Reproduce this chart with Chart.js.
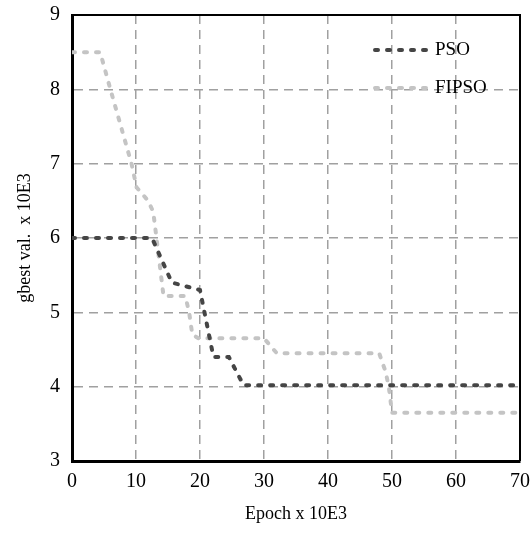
<!DOCTYPE html>
<html>
<head>
<meta charset="utf-8">
<script src="https://cdn.jsdelivr.net/npm/chart.js@4"></script>
<style>
  html, body { margin: 0; padding: 0; background: #fff; }
  canvas { display: block; }
</style>
</head>
<body>
<canvas id="chart" width="530" height="533"></canvas>
<script>
const xTicks = [0, 10, 20, 30, 40, 50, 60, 70];
const yTicks = [3, 4, 5, 6, 7, 8, 9];

const psoX = [0, 12.5, 15.6, 20.0, 22.1, 24.5, 26.8, 70];
const psoY = [6.0, 6.0, 5.40, 5.30, 4.40, 4.40, 4.02, 4.02];

const fipsoX = [0, 4.4, 6.0, 9.3, 10.1, 11.9, 12.7, 13.2, 14.3, 17.7, 18.3, 18.8, 19.8, 30.0, 32.0, 48.0, 49.0, 49.5, 50.0, 70];
const fipsoY = [8.5, 8.5, 8.0, 7.0, 6.68, 6.5, 6.35, 6.0, 5.22, 5.22, 5.0, 4.7, 4.65, 4.65, 4.45, 4.45, 4.2, 4.0, 3.65, 3.65];

const labels = ['PSO', 'FIPSO'];
const colors = ['#454545', '#c4c4c4'];

const serif = '"Liberation Serif", "DejaVu Serif", serif';

function toPoints(xs, ys) {
  return xs.map((x, i) => ({ x: x, y: ys[i] }));
}

// frame on top/right plus the legend in the upper right of the plot
const framePlugin = {
  id: 'frame',
  afterDatasetsDraw(chart) {
    const { ctx, chartArea: a } = chart;
    ctx.save();
    ctx.strokeStyle = '#000';
    ctx.lineWidth = 2;
    ctx.beginPath();
    ctx.moveTo(a.left, a.top);
    ctx.lineTo(a.right, a.top);
    ctx.lineTo(a.right, a.bottom);
    ctx.stroke();

    const lx = a.right - 145;
    chart.data.datasets.forEach((ds, i) => {
      const y = a.top + 35 + i * 38;
      ctx.strokeStyle = ds.borderColor;
      ctx.lineWidth = ds.borderWidth;
      ctx.lineCap = 'round';
      ctx.setLineDash(ds.borderDash);
      ctx.beginPath();
      ctx.moveTo(lx, y);
      ctx.lineTo(lx + 54, y);
      ctx.stroke();
      ctx.setLineDash([]);
      ctx.fillStyle = '#000';
      ctx.font = '19px ' + serif;
      ctx.textBaseline = 'middle';
      ctx.fillText(ds.label, lx + 60, y);
    });
    ctx.restore();
  }
};

const chart = new Chart(document.getElementById('chart').getContext('2d'), {
  type: 'line',
  data: {
    datasets: [
      { label: labels[0], data: toPoints(psoX, psoY), borderColor: colors[0], borderWidth: 4, borderDash: [3, 9], borderCapStyle: 'round', pointRadius: 0, tension: 0, fill: false },
      { label: labels[1], data: toPoints(fipsoX, fipsoY), borderColor: colors[1], borderWidth: 4, borderDash: [3, 9], borderCapStyle: 'round', pointRadius: 0, tension: 0, fill: false }
    ]
  },
  options: {
    responsive: false,
    animation: false,
    layout: { padding: { top: 15, right: 10, left: 0, bottom: 0 } },
    plugins: { legend: { display: false }, tooltip: { enabled: false } },
    scales: {
      x: {
        type: 'linear', min: 0, max: 70,
        afterBuildTicks: s => { s.ticks = xTicks.map(v => ({ value: v })); },
        afterFit: s => { s.height = 72; s.paddingLeft = 0; s.paddingRight = 0; },
        grid: { color: '#a0a0a0', lineWidth: 1.5, drawTicks: false },
        border: { display: true, color: '#000', width: 3, dash: [9, 6] },
        ticks: { color: '#000', padding: 9, font: { family: serif, size: 20 } },
        title: { display: true, text: 'Epoch x 10E3', color: '#000', font: { family: serif, size: 18 }, padding: { top: 0, bottom: 8 } }
      },
      y: {
        min: 3, max: 9,
        afterBuildTicks: s => { s.ticks = yTicks.map(v => ({ value: v })); },
        afterFit: s => { s.width = 72; s.paddingTop = 0; s.paddingBottom = 0; },
        grid: { color: '#a0a0a0', lineWidth: 1.5, drawTicks: false },
        border: { display: true, color: '#000', width: 3, dash: [9, 6] },
        ticks: { color: '#000', padding: 12, font: { family: serif, size: 20 } },
        title: { display: true, text: 'gbest val.  x 10E3', color: '#000', font: { family: serif, size: 18 }, padding: { top: 14, bottom: 0 } }
      }
    }
  },
  plugins: [framePlugin]
});
</script>
</body>
</html>
